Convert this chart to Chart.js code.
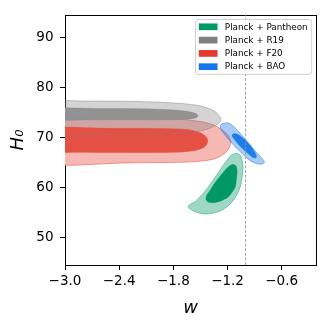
<!DOCTYPE html>
<html>
<head>
<meta charset="utf-8">
<script src="https://cdn.jsdelivr.net/npm/chart.js@4.4.1/dist/chart.umd.min.js"></script>
<style>
html,body{margin:0;padding:0;background:#fff;}
canvas{display:block;}
</style>
</head>
<body>
<canvas id="c" width="332" height="330"></canvas>
<script>
// ---- axis ranges and ticks ----
const xRange = [-3.0, -0.22];
const yRange = [44.5, 94.6];
const xTicks = [-3.0, -2.4, -1.8, -1.2, -0.6];
const yTicks = [50, 60, 70, 80, 90];
const refW = -1.0; // dashed reference line w = -1

// ---- legend ----
const seriesNames = ['Planck + Pantheon', 'Planck + R19', 'Planck + F20', 'Planck + BAO'];

// ---- contour outlines [w, H0] ----
const r19Outer = [[-3.5,74.0],[-3.45,77.3],[-2.8,77.35],[-2.3,77.3],[-2.0,77.15],[-1.7,76.85],[-1.5,76.4],[-1.43,76.0],[-1.35,75.4],[-1.3,74.6],[-1.273,73.7],[-1.29,73.0],[-1.33,72.5],[-1.39,71.95],[-1.5,71.35],[-1.61,71.0],[-1.8,70.8],[-2.06,70.7],[-2.6,70.7],[-3.45,70.7]];
const r19Inner = [[-3.5,74.7],[-3.45,75.85],[-2.5,75.85],[-2.0,75.75],[-1.75,75.5],[-1.62,75.2],[-1.54,74.75],[-1.53,74.25],[-1.58,73.85],[-1.7,73.65],[-2.0,73.6],[-2.6,73.6],[-3.45,73.6]];
const f20Outer = [[-3.5,69.5],[-3.45,73.85],[-2.5,73.9],[-2.0,73.85],[-1.69,73.65],[-1.5,73.25],[-1.36,72.6],[-1.26,71.6],[-1.19,70.4],[-1.165,69.2],[-1.18,68.0],[-1.23,66.9],[-1.31,66.0],[-1.45,65.4],[-1.7,65.1],[-2.2,65.0],[-3.45,65.05]];
const f20Inner = [[-3.5,69.6],[-3.45,71.85],[-2.5,71.9],[-2.0,71.85],[-1.69,71.7],[-1.57,71.4],[-1.48,70.8],[-1.43,70.0],[-1.42,69.3],[-1.44,68.4],[-1.5,67.75],[-1.62,67.3],[-1.8,67.1],[-2.2,67.05],[-2.8,67.1],[-3.45,67.3]];
const panOuter = [[-1.029,63.6],[-1.04,61.9],[-1.059,60.2],[-1.09,58.8],[-1.133,57.5],[-1.19,56.4],[-1.262,55.5],[-1.33,55.0],[-1.411,54.75],[-1.49,54.8],[-1.56,55.2],[-1.62,55.8],[-1.635,56.3],[-1.60,56.8],[-1.559,57.2],[-1.485,58.55],[-1.411,60.2],[-1.345,61.9],[-1.281,63.6],[-1.235,64.8],[-1.189,65.9],[-1.151,66.6],[-1.096,66.9],[-1.06,66.5],[-1.04,65.6],[-1.03,64.6]];
const panInner = [[-1.10,62.0],[-1.114,60.2],[-1.15,59.1],[-1.189,58.2],[-1.245,57.6],[-1.30,57.2],[-1.392,57.0],[-1.437,57.6],[-1.43,58.5],[-1.392,59.5],[-1.35,60.7],[-1.30,61.9],[-1.25,63.0],[-1.207,63.9],[-1.17,64.45],[-1.135,64.65],[-1.105,64.3],[-1.094,63.3]];
const baoOuter = [[-1.078,71.27],[-1.02,70.1],[-0.967,68.9],[-0.91,67.7],[-0.856,66.6],[-0.81,65.7],[-0.792,65.15],[-0.815,64.75],[-0.86,64.75],[-0.929,65.2],[-0.99,66.0],[-1.04,66.9],[-1.10,67.9],[-1.151,68.9],[-1.20,69.9],[-1.244,70.9],[-1.275,71.8],[-1.28,72.45],[-1.255,72.85],[-1.189,72.95],[-1.13,72.2]];
const baoInner = [[-1.03,69.95],[-0.985,69.2],[-0.94,68.3],[-0.905,67.3],[-0.882,66.5],[-0.882,66.05],[-0.905,65.95],[-0.945,66.4],[-0.995,67.2],[-1.04,67.95],[-1.085,68.8],[-1.12,69.6],[-1.148,70.3],[-1.145,70.7],[-1.11,70.8],[-1.075,70.55]];

// ---- styling ----
const legendColors = ['rgb(0,153,102)', 'rgb(128,128,128)', 'rgb(227,58,44)', 'rgb(20,117,232)'];

function closed(pts) {
  const out = pts.map(p => ({x: p[0], y: p[1]}));
  out.push({x: pts[0][0], y: pts[0][1]});
  return out;
}
function region(pts, fillColor, lineColor, lw, order, doFill) {
  return {
    data: closed(pts),
    showLine: true,
    fill: doFill === false ? false : 'shape',
    backgroundColor: fillColor,
    borderColor: lineColor,
    borderWidth: lw,
    pointRadius: 0,
    tension: 0.35,
    clip: 0,
    order: order
  };
}

const datasets = [
  region(f20Outer, 'rgb(246,184,179)', 'rgba(227,58,44,0.55)', 0.8, 20),
  region(r19Outer, 'rgba(128,128,128,0.34)', 'rgba(128,128,128,0.0)', 0, 19),
  region(r19Inner, 'rgb(146,146,146)', 'rgba(128,128,128,0.6)', 0.5, 18),
  region(f20Inner, 'rgb(228,80,68)', 'rgb(228,80,68)', 0.5, 17),
  region(r19Outer, 'rgba(0,0,0,0)', 'rgba(128,128,128,0.55)', 0.8, 16, false),
  region(panOuter, 'rgba(0,153,102,0.38)', 'rgba(0,153,102,0.55)', 0.8, 15),
  region(panInner, 'rgb(0,152,101)', 'rgb(0,152,101)', 0.5, 14),
  region(baoOuter, 'rgba(20,117,232,0.38)', 'rgba(20,117,232,0.6)', 0.8, 13),
  region(baoInner, 'rgb(30,125,232)', 'rgb(30,125,232)', 0.5, 12),
  {
    data: [{x: refW, y: yRange[0]}, {x: refW, y: yRange[1]}],
    showLine: true, fill: false, borderColor: 'rgb(140,140,140)', borderWidth: 0.8,
    borderDash: [3, 1.6], pointRadius: 0, order: 1
  }
];

const boxLegend = {
  id: 'boxLegend',
  afterDraw(chart) {
    const {ctx, chartArea} = chart;
    ctx.save();
    ctx.font = '8.8px "DejaVu Sans"';
    const rowH = 13.3, patchW = 18.7, patchH = 6.7, padL = 3.3, gap = 7.3, padR = 4, padT = 7.3, padB = 7.7;
    let tw = 0;
    seriesNames.forEach(n => { tw = Math.max(tw, ctx.measureText(n).width); });
    const w = padL + patchW + gap + tw + padR;
    const h = padT + rowH * (seriesNames.length - 1) + padB;
    const right = chartArea.right - 4.3;
    const left = right - w;
    const top = chartArea.top + 4.5;
    ctx.beginPath();
    if (ctx.roundRect) ctx.roundRect(left, top, w, h, 2.5); else ctx.rect(left, top, w, h);
    ctx.fillStyle = 'rgba(255,255,255,0.8)';
    ctx.fill();
    ctx.strokeStyle = 'rgba(204,204,204,0.9)';
    ctx.lineWidth = 1;
    ctx.stroke();
    ctx.textBaseline = 'middle';
    ctx.textAlign = 'left';
    seriesNames.forEach((n, i) => {
      const cy = top + padT + i * rowH;
      ctx.fillStyle = legendColors[i];
      ctx.fillRect(left + padL, cy - patchH / 2, patchW, patchH);
      ctx.fillStyle = '#000';
      ctx.fillText(n, left + padL + patchW + gap, cy + 0.5);
    });
    ctx.restore();
  }
};

const tickFont = {family: 'DejaVu Sans', size: 13.5};
const fmtX = v => (v < 0 ? '\u2212' : '') + Math.abs(v).toFixed(1);

new Chart(document.getElementById('c'), {
  type: 'scatter',
  data: {datasets},
  options: {
    responsive: false,
    animation: false,
    devicePixelRatio: 1,
    layout: {padding: {left: 0, right: 16, top: 15, bottom: 0}},
    elements: {line: {capBezierPoints: false}, point: {radius: 0}},
    plugins: {legend: {display: false}, tooltip: {enabled: false}},
    scales: {
      x: {
        type: 'linear', position: 'bottom', min: xRange[0], max: xRange[1],
        afterBuildTicks: s => { s.ticks = xTicks.map(v => ({value: v})); },
        ticks: {callback: v => fmtX(v), font: tickFont, color: '#000', padding: 3, maxRotation: 0, autoSkip: false},
        grid: {display: true, drawOnChartArea: false, drawTicks: true, tickLength: 5, tickColor: '#000', tickWidth: 1},
        border: {display: true, color: '#000', width: 1},
        title: {display: true, text: 'w', color: '#000', font: {family: 'DejaVu Sans', size: 18, style: 'italic'}, padding: {top: 0, bottom: 11}},
        afterFit: s => { s.height = 65; }
      },
      y: {
        type: 'linear', position: 'left', min: yRange[0], max: yRange[1],
        afterBuildTicks: s => { s.ticks = yTicks.map(v => ({value: v})); },
        ticks: {callback: v => String(v), font: tickFont, color: '#000', padding: 6.5, autoSkip: false},
        grid: {display: true, drawOnChartArea: false, drawTicks: true, tickLength: 5, tickColor: '#000', tickWidth: 1},
        border: {display: true, color: '#000', width: 1},
        title: {display: true, text: 'H\u2080', color: '#000', font: {family: 'DejaVu Sans', size: 18, style: 'italic'}, padding: {top: 8, bottom: 0}},
        afterFit: s => { s.width = 65; }
      },
      x2: {
        type: 'linear', position: 'top', min: xRange[0], max: xRange[1],
        ticks: {display: false}, grid: {display: false},
        border: {display: true, color: '#000', width: 1},
        afterFit: s => { s.height = 0; }
      },
      y2: {
        type: 'linear', position: 'right', min: yRange[0], max: yRange[1],
        ticks: {display: false}, grid: {display: false},
        border: {display: true, color: '#000', width: 1},
        afterFit: s => { s.width = 0; }
      }
    }
  },
  plugins: [boxLegend]
});
</script>
</body>
</html>
